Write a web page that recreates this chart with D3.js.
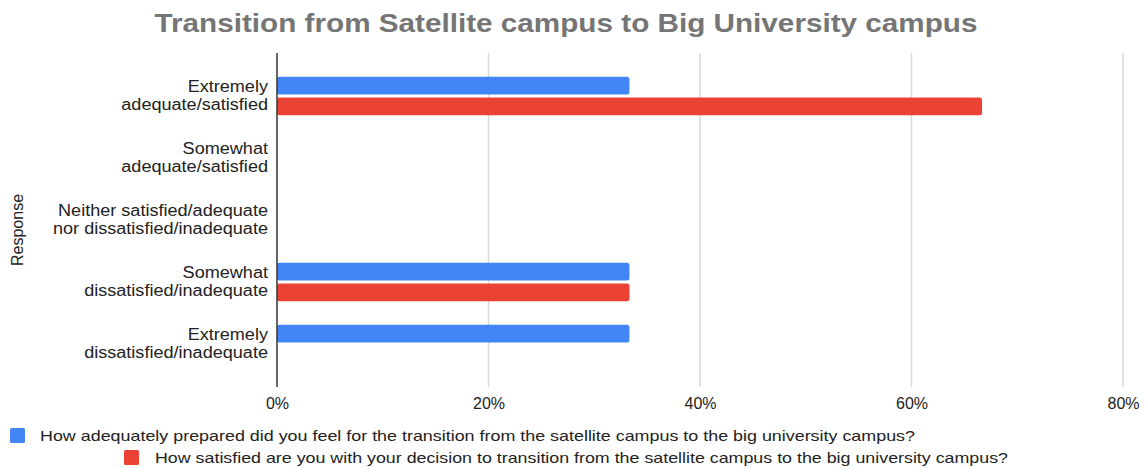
<!DOCTYPE html>
<html>
<head>
<meta charset="utf-8">
<script src="https://cdn.jsdelivr.net/npm/d3@7"></script>
<style>
  html, body { margin: 0; padding: 0; background: #fff; }
  svg { display: block; font-family: "Liberation Sans", Arial, sans-serif; }
</style>
</head>
<body>
<svg id="chart" width="1146" height="468"></svg>
<script>
// Survey responses, shown as share of respondents (%)
const categories = [
  ["Extremely", "adequate/satisfied"],
  ["Somewhat", "adequate/satisfied"],
  ["Neither satisfied/adequate", "nor dissatisfied/inadequate"],
  ["Somewhat", "dissatisfied/inadequate"],
  ["Extremely", "dissatisfied/inadequate"]
];
const seriesNames = [
  "How adequately prepared did you feel for the transition from the satellite campus to the big university campus?",
  "How satisfied are you with your decision to transition from the satellite campus to the big university campus?"
];
const preparedValues = [33.33, 0, 0, 33.33, 33.33];
const satisfiedValues = [66.67, 0, 0, 33.33, 0];
const xTicks = [0, 20, 40, 60, 80];
const colors = ["#4285F4", "#EA4335"];

const svg = d3.select("#chart");
const plot = { left: 277, right: 1123, top: 53, bottom: 387 };

const x = d3.scaleLinear().domain([0, 80]).range([plot.left, plot.right]);
const y = d3.scaleBand().domain(d3.range(categories.length)).range([65, 375]).paddingInner(0.38).paddingOuter(0.19);
const ySub = d3.scaleBand().domain([0, 1]).range([0, y.bandwidth()]).paddingInner(0.15);

// Title
svg.append("text")
  .attr("x", 566).attr("y", 32)
  .attr("text-anchor", "middle")
  .attr("font-size", 26).attr("font-weight", "bold")
  .attr("fill", "#757575")
  .attr("textLength", 823).attr("lengthAdjust", "spacingAndGlyphs")
  .text("Transition from Satellite campus to Big University campus");

// Vertical gridlines
svg.append("g")
  .selectAll("line")
  .data(xTicks.slice(1))
  .join("line")
  .attr("x1", d => x(d)).attr("x2", d => x(d))
  .attr("y1", plot.top).attr("y2", plot.bottom)
  .attr("stroke", "#d9d9d9").attr("stroke-width", 1.5);

// X axis tick labels
const xAxis = d3.axisBottom(x).tickValues(xTicks).tickFormat(d => d + "%").tickSize(0).tickPadding(0);
const gx = svg.append("g").attr("transform", `translate(0,${plot.bottom + 11})`).call(xAxis);
gx.select(".domain").remove();
gx.selectAll("text").attr("font-size", 16).attr("fill", "#222").attr("font-family", "Liberation Sans, Arial, sans-serif");

// Bars
const series = [preparedValues, satisfiedValues];
series.forEach((vals, si) => {
  svg.append("g")
    .selectAll("rect")
    .data(vals.map((v, i) => ({ v, i })).filter(d => d.v > 0))
    .join("rect")
    .attr("x", x(0))
    .attr("y", d => y(d.i) + ySub(si))
    .attr("width", d => x(d.v) - x(0))
    .attr("height", ySub.bandwidth())
    .attr("rx", 2.5)
    .attr("fill", colors[si]);
});

// Baseline axis
svg.append("line")
  .attr("x1", x(0)).attr("x2", x(0))
  .attr("y1", plot.top).attr("y2", plot.bottom)
  .attr("stroke", "#333").attr("stroke-width", 1.5);

// Category labels (slightly widened type)
const labelRight = 268;
const catG = svg.append("g")
  .attr("transform", `translate(${labelRight},0) scale(1.13,1) translate(${-labelRight},0)`);
categories.forEach((lines, i) => {
  const cy = y(i) + y.bandwidth() / 2;
  const t = catG.append("text")
    .attr("text-anchor", "end")
    .attr("font-size", 16).attr("fill", "#222");
  lines.forEach((ln, k) => {
    t.append("tspan").attr("x", labelRight).attr("y", cy - 4 + k * 18).text(ln);
  });
});

// Y axis title
svg.append("text")
  .attr("transform", "translate(23,230) rotate(-90)")
  .attr("text-anchor", "middle")
  .attr("font-size", 16).attr("fill", "#222")
  .text("Response");

// Legend
const legend = [
  { sx: 10, sy: 428, tx: 40, ty: 441, w: 875 },
  { sx: 124, sy: 450, tx: 155, ty: 463, w: 853 }
];
legend.forEach((L, i) => {
  svg.append("rect").attr("x", L.sx).attr("y", L.sy).attr("width", 15).attr("height", 15).attr("rx", 1.5).attr("fill", colors[i]);
  svg.append("text").attr("x", L.tx).attr("y", L.ty)
    .attr("font-size", 15).attr("fill", "#222")
    .attr("textLength", L.w).attr("lengthAdjust", "spacingAndGlyphs")
    .text(seriesNames[i]);
});
</script>
</body>
</html>
